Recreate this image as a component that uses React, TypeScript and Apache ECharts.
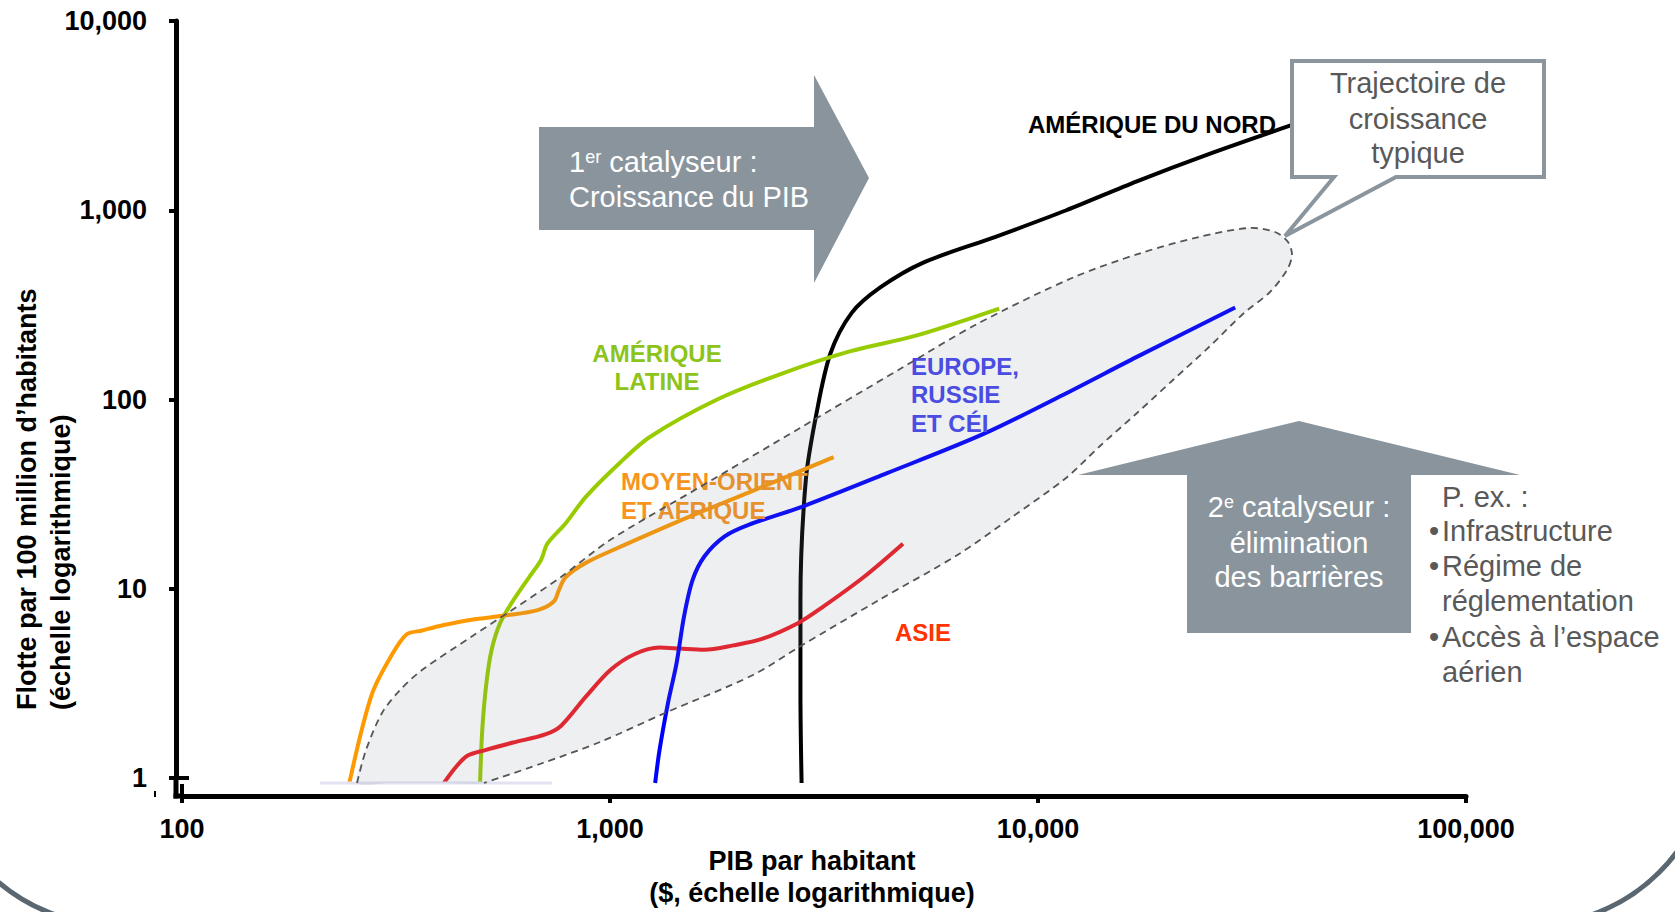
import React, { useEffect, useRef } from 'react';
import * as echarts from 'echarts';

const FONT = '"Liberation Sans", Arial, Helvetica, sans-serif';

// Axis ranges (tick values of the log axes)
const xTickValues = [100, 1000, 10000, 100000];
const yTickValues = [1, 10, 100, 1000, 10000];

// PIB par habitant (x) / Flotte par 100 millions d'habitants (y)
const northAmericaGdp = [2803, 2786, 2786, 2868, 3037, 3273, 3671, 4288, 5395, 7929, 11650, 17020, 24880, 39390];
const northAmericaFleet = [0.94, 2.76, 8.67, 37.7, 84.5, 175, 287, 392, 529, 722, 1000, 1421, 1967, 2831];

const latinAmericaGdp = [497, 503, 514, 529, 554, 594, 647, 690, 714, 787, 878, 1049, 1239, 1780, 2541, 3650, 5212, 8115];
const latinAmericaFleet = [0.94, 1.8, 3.14, 4.76, 6.6, 8.67, 11.5, 14.2, 17.3, 22.1, 30.6, 45.8, 63.4, 100, 138, 180, 218, 302];

const middleEastAfricaGdp = [246, 263, 280, 307, 334, 364, 409, 475, 567, 678, 739, 760, 787, 878, 1098, 1524, 2114, 3330];
const middleEastAfricaFleet = [0.94, 1.8, 2.91, 4.35, 5.72, 6.02, 6.43, 6.86, 7.22, 7.71, 8.56, 9.87, 11.5, 13.7, 17.3, 23.9, 32.3, 49.6];

const asiaGdp = [409, 436, 464, 509, 594, 706, 769, 878, 1002, 1143, 1305, 1455, 1661, 1940, 2265, 2754, 3143, 3911, 4837];
const asiaFleet = [0.94, 1.14, 1.31, 1.4, 1.54, 1.7, 1.89, 2.69, 3.72, 4.52, 4.89, 4.83, 4.76, 5.02, 5.43, 6.6, 8.02, 11.5, 17.3];

const europeGdp = [1275, 1305, 1366, 1430, 1489, 1559, 1661, 1853, 2114, 2818, 4437, 7485, 11650, 17020, 28890];
const europeFleet = [0.94, 1.4, 2.49, 4.02, 7.13, 11.1, 14.8, 18.9, 21.8, 27.2, 40.8, 66, 108, 168, 306];

const fmt = (v: number) => String(Math.round(v)).replace(/\B(?=(\d{3})+(?!\d))/g, ',');

const ARROW = '#89949c';
const GREYTXT = '#595959';

// outline of the "typical growth trajectory" zone (pixel space)
const zoneUpper = [
  [357, 783], [366, 750], [382, 713], [400, 690], [422, 670], [471, 637], [512, 610], [561, 577], [610, 540],
  [700, 487], [800, 428], [900, 369], [977, 324], [1072, 278], [1141, 253], [1199, 237], [1249, 228],
  [1275, 232], [1288, 242], [1292, 255],
];
const zoneLower = [
  [1287, 270], [1270, 292], [1244, 313], [1209, 347], [1173, 380], [1137, 413], [1100, 446], [1066, 478],
  [1012, 517], [959, 554], [879, 600], [799, 647], [753, 675], [665, 713], [600, 742], [540, 764], [484, 783],
];
const zoneBottom = [[450, 783], [420, 783], [390, 783]];

function line(name: string, xs: number[], ys: number[], color: string) {
  return {
    type: 'line',
    name,
    data: xs.map((x, i) => [x, ys[i]]),
    symbol: 'none',
    showSymbol: false,
    smooth: 0.3,
    clip: false,
    silent: true,
    z: 2,
    lineStyle: { color, width: 4 },
  };
}

function txt(x: number, y: number, text: string, fill: string, size: number, weight: string, align: string, z: number, extra: any = {}) {
  return {
    type: 'text',
    x,
    y,
    z,
    silent: true,
    ...extra,
    style: {
      text,
      fill,
      fontSize: size,
      fontWeight: weight,
      fontFamily: FONT,
      align,
      verticalAlign: 'middle',
    },
  };
}

export default function App() {
  const ref = useRef<HTMLDivElement>(null);

  useEffect(() => {
    if (!ref.current) return;
    const chart = echarts.init(ref.current, undefined, { renderer: 'svg' });

    const sup = { fontSize: 18, fill: '#ffffff', verticalAlign: 'top', fontFamily: FONT };

    const graphic: any[] = [
      // page frame (rounded corners at the bottom; its straight bottom edge lies below the page)
      {
        type: 'rect', z: 0, silent: true,
        shape: { x: -65, y: -300, width: 1777, height: 1225, r: 180 },
        style: { fill: 'rgba(0,0,0,0)', stroke: '#5b6770', lineWidth: 5 },
      },
      // axis corner extensions
      { type: 'line', z: 3, silent: true, shape: { x1: 176, y1: 776, x2: 176, y2: 798.5 }, style: { stroke: '#000', lineWidth: 5 } },
      { type: 'line', z: 3, silent: true, shape: { x1: 173.5, y1: 796, x2: 184, y2: 796 }, style: { stroke: '#000', lineWidth: 5 } },
      { type: 'line', z: 3, silent: true, shape: { x1: 176, y1: 778, x2: 189, y2: 778 }, style: { stroke: '#000', lineWidth: 4 } },
      { type: 'line', z: 3, silent: true, shape: { x1: 182, y1: 784, x2: 182, y2: 796 }, style: { stroke: '#000', lineWidth: 4 } },
      { type: 'line', z: 3, silent: true, shape: { x1: 155, y1: 791, x2: 155, y2: 797 }, style: { stroke: '#000', lineWidth: 2 } },

      // region labels
      txt(657, 353, 'AMÉRIQUE', '#8cc41a', 24, 'bold', 'center', 3),
      txt(657, 381, 'LATINE', '#8cc41a', 24, 'bold', 'center', 3),
      txt(621, 481, 'MOYEN-ORIENT', '#f7941d', 24, 'bold', 'left', 3),
      txt(621, 510, 'ET AFRIQUE', '#f7941d', 24, 'bold', 'left', 3),
      txt(911, 366, 'EUROPE,', '#4444ee', 24, 'bold', 'left', 3),
      txt(911, 394, 'RUSSIE', '#4444ee', 24, 'bold', 'left', 3),
      txt(911, 423, 'ET CÉI', '#4444ee', 24, 'bold', 'left', 3),
      txt(895, 632, 'ASIE', '#ff3300', 24, 'bold', 'left', 3),
      txt(1028, 124, 'AMÉRIQUE DU NORD', '#000000', 24, 'bold', 'left', 3),

      // faint band at the bottom of the zone
      { type: 'rect', z: 4, silent: true, shape: { x: 320, y: 781.5, width: 232, height: 3 }, style: { fill: '#e2e2f2' } },

      // zone (fill + dashed outline)
      {
        type: 'polygon', z: 5, silent: true,
        shape: { points: [...zoneUpper, ...zoneLower, ...zoneBottom], smooth: 0.3 },
        style: { fill: 'rgba(115,128,145,0.13)' },
      },
      {
        type: 'polyline', z: 6, silent: true,
        shape: { points: [...zoneUpper, ...zoneLower], smooth: 0.3 },
        style: { fill: null, stroke: '#555555', lineWidth: 1.8, lineDash: [7, 5] },
      },

      // arrow 1 : GDP growth
      {
        type: 'polygon', z: 7, silent: true,
        shape: { points: [[539, 127], [814, 127], [814, 75], [869, 178], [814, 283], [814, 230], [539, 230]] },
        style: { fill: ARROW },
      },
      {
        type: 'text', z: 8, x: 569, y: 162, silent: true,
        style: {
          text: '1{sup|er} catalyseur :', fill: '#ffffff', fontSize: 29, fontFamily: FONT,
          align: 'left', verticalAlign: 'middle', rich: { sup },
        },
      },
      txt(569, 197, 'Croissance du PIB', '#ffffff', 29, 'normal', 'left', 8),

      // arrow 2 : barrier removal
      {
        type: 'polygon', z: 7, silent: true,
        shape: { points: [[1187, 633], [1187, 475], [1078, 475], [1299, 421], [1520, 475], [1411, 475], [1411, 633]] },
        style: { fill: ARROW },
      },
      {
        type: 'text', z: 8, x: 1299, y: 507, silent: true,
        style: {
          text: '2{sup|e} catalyseur :', fill: '#ffffff', fontSize: 29, fontFamily: FONT,
          align: 'center', verticalAlign: 'middle', rich: { sup },
        },
      },
      txt(1299, 543, 'élimination', '#ffffff', 29, 'normal', 'center', 8),
      txt(1299, 577, 'des barrières', '#ffffff', 29, 'normal', 'center', 8),

      // examples list
      txt(1442, 497, 'P. ex. :', GREYTXT, 29, 'normal', 'left', 8),
      txt(1429, 531, '•', GREYTXT, 29, 'normal', 'left', 8),
      txt(1442, 531, 'Infrastructure', GREYTXT, 29, 'normal', 'left', 8),
      txt(1429, 566, '•', GREYTXT, 29, 'normal', 'left', 8),
      txt(1442, 566, 'Régime de', GREYTXT, 29, 'normal', 'left', 8),
      txt(1442, 601, 'réglementation', GREYTXT, 29, 'normal', 'left', 8),
      txt(1429, 637, '•', GREYTXT, 29, 'normal', 'left', 8),
      txt(1442, 637, 'Accès à l’espace', GREYTXT, 29, 'normal', 'left', 8),
      txt(1442, 672, 'aérien', GREYTXT, 29, 'normal', 'left', 8),

      // callout
      {
        type: 'polygon', z: 7, silent: true,
        shape: { points: [[1292, 61], [1544, 61], [1544, 177], [1396, 177], [1285, 236], [1334, 177], [1292, 177]] },
        style: { fill: '#ffffff', stroke: '#8a959e', lineWidth: 4, lineJoin: 'miter' },
      },
      txt(1418, 83, 'Trajectoire de', GREYTXT, 29, 'normal', 'center', 8),
      txt(1418, 119, 'croissance', GREYTXT, 29, 'normal', 'center', 8),
      txt(1418, 153, 'typique', GREYTXT, 29, 'normal', 'center', 8),

      // axis titles
      txt(812, 861, 'PIB par habitant', '#000000', 27, 'bold', 'center', 8),
      txt(812, 893, '($, échelle logarithmique)', '#000000', 27, 'bold', 'center', 8),
      txt(27, 710, 'Flotte par 100 million d’habitants', '#000000', 27, 'bold', 'left', 8, { rotation: Math.PI / 2 }),
      txt(61, 710, '(échelle logarithmique)', '#000000', 27, 'bold', 'left', 8, { rotation: Math.PI / 2 }),
    ];

    chart.setOption({
      animation: false,
      backgroundColor: '#ffffff',
      grid: { left: 182, right: 209, top: 21, bottom: 134, containLabel: false },
      xAxis: {
        type: 'log',
        logBase: 10,
        min: xTickValues[0],
        max: xTickValues[xTickValues.length - 1],
        offset: 18,
        axisLine: { show: true, lineStyle: { color: '#000', width: 5 } },
        axisTick: { show: true, length: 7, lineStyle: { color: '#000', width: 4 } },
        axisLabel: { color: '#000', fontSize: 27, fontWeight: 'bold', fontFamily: FONT, margin: 19, formatter: fmt },
        splitLine: { show: false },
        minorTick: { show: false },
      },
      yAxis: {
        type: 'log',
        logBase: 10,
        min: yTickValues[0],
        max: yTickValues[yTickValues.length - 1],
        offset: 6,
        axisLine: { show: true, lineStyle: { color: '#000', width: 5 } },
        axisTick: { show: true, length: 7, lineStyle: { color: '#000', width: 4 } },
        axisLabel: { color: '#000', fontSize: 27, fontWeight: 'bold', fontFamily: FONT, margin: 29, formatter: fmt },
        splitLine: { show: false },
        minorTick: { show: false },
      },
      series: [
        line('Amérique du Nord', northAmericaGdp, northAmericaFleet, '#000000'),
        line('Amérique latine', latinAmericaGdp, latinAmericaFleet, '#99cc00'),
        line('Moyen-Orient et Afrique', middleEastAfricaGdp, middleEastAfricaFleet, '#ff9900'),
        line('Asie', asiaGdp, asiaFleet, '#ee1c24'),
        line('Europe, Russie et CÉI', europeGdp, europeFleet, '#0000ff'),
      ],
      graphic,
    });

    return () => chart.dispose();
  }, []);

  return (
    <div
      ref={ref}
      style={{ position: 'fixed', left: 0, top: 0, width: 1675, height: 912, background: '#ffffff' }}
    />
  );
}
